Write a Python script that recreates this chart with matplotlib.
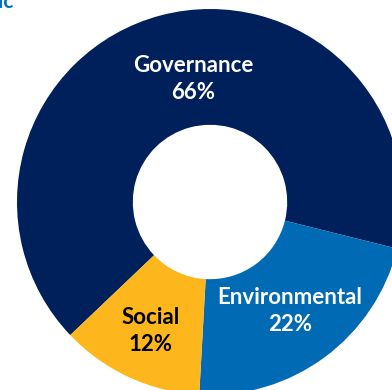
import numpy as np
import matplotlib.pyplot as plt

labels = ['Governance', 'Environmental', 'Social']
shares = [66, 22, 12]
colors = ['#00205B', '#006AB4', '#FDB71C']
text_colors = ['white', 'white', 'black']

plt.rcParams['font.family'] = ['Lato', 'DejaVu Sans']

fig = plt.figure(figsize=(3.92, 3.90), dpi=100)
ax = fig.add_axes([0, 0, 1, 1])

cx, cy, R = 210, 188, 193
wedges, _ = ax.pie(shares, center=(cx, cy), radius=R, startangle=223.6,
                   counterclock=False, colors=colors,
                   wedgeprops=dict(width=0.6 * R, linewidth=0),
                   frame=True)
ax.set_xlim(0, 392)
ax.set_ylim(0, 390)
ax.set_aspect('equal')
ax.axis('off')

# label positions along each wedge's middle angle
label_r = [127, 135, 142]
label_shift = [16, 0, 0]
for w, lab, val, tc, r, s in zip(wedges, labels, shares, text_colors, label_r, label_shift):
    mid = np.deg2rad((w.theta1 + w.theta2) / 2)
    x = cx + r * np.cos(mid) + s
    y = cy + r * np.sin(mid)
    ax.text(x, y, f'{lab}\n{val}%', ha='center', va='center', color=tc,
            fontsize=16, fontweight='bold', linespacing=1.35)

# tail of the chart title
ax.text(-2, 382, 'ic', ha='left', va='baseline', color='#0070C0',
        fontsize=15, fontweight='bold')

fig.savefig('out.png', dpi=100)
